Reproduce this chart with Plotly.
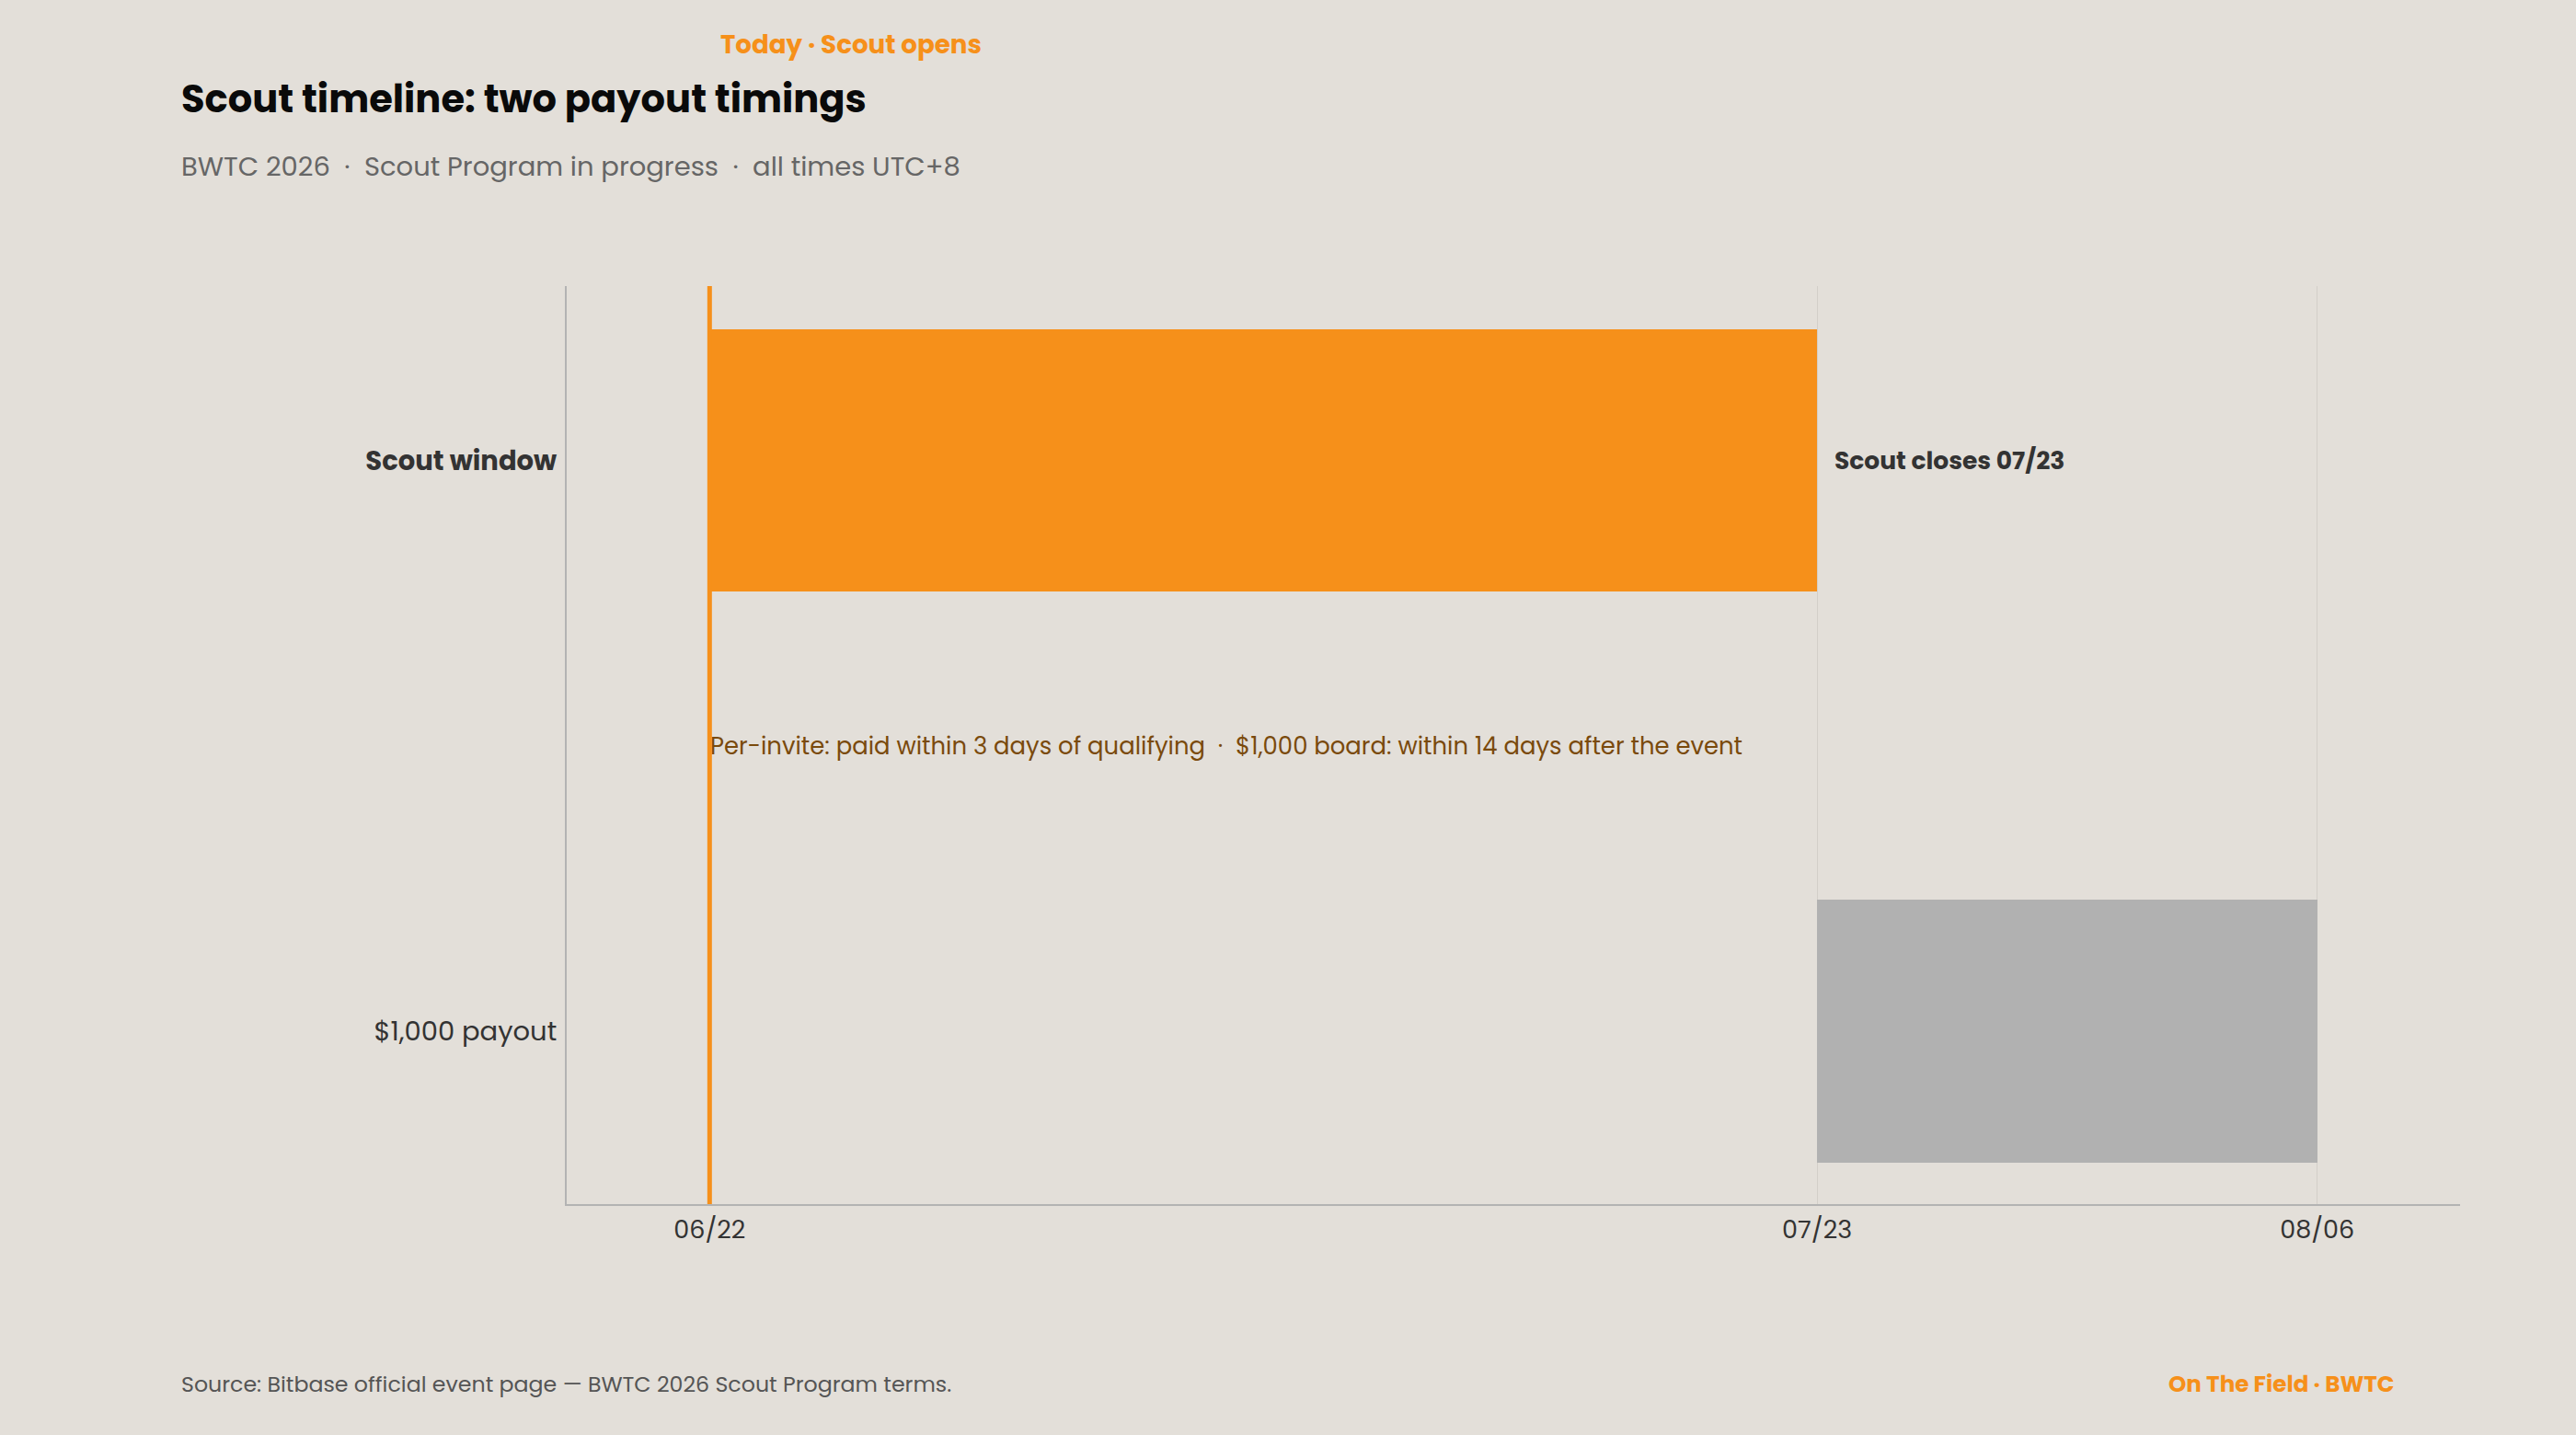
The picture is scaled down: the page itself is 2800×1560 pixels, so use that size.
import plotly.graph_objects as go
import pandas as pd

# ---- data ----
rows = ["Scout window", "Per-invite", "$1,000 payout"]
bar_names = ["Scout window", "$1,000 payout"]
bar_starts = ["2026-06-22", "2026-07-23"]
bar_ends = ["2026-07-23", "2026-08-06"]
bar_colors = ["#F6901A", "#B1B1B1"]
tick_dates = ["2026-06-22", "2026-07-23", "2026-08-06"]
tick_labels = ["06/22", "07/23", "08/06"]
x_range = ["2026-06-18", "2026-08-10"]
today = "2026-06-22"
close_date = "2026-07-23"

title = "Scout timeline: two payout timings"
subtitle = "BWTC 2026  ·  Scout Program in progress  ·  all times UTC+8"
today_label = "Today · Scout opens"
close_label = "Scout closes 07/23"
note_label = "Per-invite: paid within 3 days of qualifying  ·  $1,000 board: within 14 days after the event"
source = "Source: Bitbase official event page — BWTC 2026 Scout Program terms."
brand = "On The Field · BWTC"

FONT = "Poppins, Inter, Open Sans, sans-serif"
BG = "#E3DFD9"
ORANGE = "#F6901A"

starts = pd.to_datetime(bar_starts)
ends = pd.to_datetime(bar_ends)
durations = [(e - s).total_seconds() * 1000 for s, e in zip(starts, ends)]

fig = go.Figure()
fig.add_trace(go.Bar(
    y=bar_names,
    x=durations,
    base=bar_starts,
    orientation="h",
    marker=dict(color=bar_colors, line=dict(width=0)),
    width=0.92,
    hoverinfo="skip",
    showlegend=False,
))

# today line
fig.add_shape(type="line", x0=today, x1=today, y0=0, y1=1, xref="x", yref="paper",
              line=dict(color=ORANGE, width=5), layer="above")

fig.add_annotation(x=today, y=1.2635, xref="x", yref="paper", text="<b>" + today_label + "</b>",
                   showarrow=False, xanchor="left", yanchor="middle", xshift=10,
                   font=dict(family=FONT, size=27.7, color=ORANGE))
fig.add_annotation(x=close_date, y="Scout window", xref="x", yref="y", text="<b>" + close_label + "</b>",
                   showarrow=False, xanchor="left", yanchor="middle", xshift=17,
                   font=dict(family=FONT, size=26.5, color="#333333"))
fig.add_annotation(x=today, y="Per-invite", xref="x", yref="y", text=note_label,
                   showarrow=False, xanchor="left", yanchor="middle", xshift=-1,
                   font=dict(family=FONT, size=25.9, color="#7A4A0C"))

# title & subtitle (pixel positions, converted to paper below)
fig.add_annotation(x=195, y=1560 - 107, xref="paper", yref="paper", text="<b>" + title + "</b>",
                   showarrow=False, xanchor="left", yanchor="middle",
                   font=dict(family=FONT, size=41.6, color="#0A0A0A"))
fig.add_annotation(x=195, y=1560 - 181, xref="paper", yref="paper", text=subtitle,
                   showarrow=False, xanchor="left", yanchor="middle",
                   font=dict(family=FONT, size=29, color="#666666"))
fig.add_annotation(x=195, y=1560 - 1504, xref="paper", yref="paper", text=source,
                   showarrow=False, xanchor="left", yanchor="middle",
                   font=dict(family=FONT, size=23.7, color="#555555"))
fig.add_annotation(x=2605, y=1560 - 1504, xref="paper", yref="paper", text="<b>" + brand + "</b>",
                   showarrow=False, xanchor="right", yanchor="middle",
                   font=dict(family=FONT, size=24.6, color=ORANGE))

L, R, T, B = 616, 126, 311, 251
W, H = 2800, 1560
pw, ph = W - L - R, H - T - B
for a in fig.layout.annotations:
    if a.xref == "paper" and a.yref == "paper" and a.x > 2:
        a.x = (a.x - L) / pw
        a.y = (a.y - B) / ph

fig.update_layout(
    width=W, height=H,
    margin=dict(l=L, r=R, t=T, b=B, pad=0),
    paper_bgcolor=BG, plot_bgcolor=BG,
    font=dict(family=FONT, color="#333333"),
    bargap=0,
)
fig.update_xaxes(
    type="date", range=x_range,
    tickvals=tick_dates, ticktext=tick_labels,
    tickfont=dict(family=FONT, size=27, color="#333333"),
    showgrid=True, gridcolor="#D3CFC9", gridwidth=1,
    showline=True, linecolor="#B3B3B3", linewidth=2,
    ticks="", zeroline=False, ticklabelstandoff=3,
)
fig.update_yaxes(
    type="category", categoryorder="array", categoryarray=rows,
    range=[2.605, -0.61],
    tickvals=["Scout window", "$1,000 payout"],
    ticktext=["<b>Scout window</b>", "$1,000 payout"],
    tickfont=dict(family=FONT, size=29, color="#333333"),
    showgrid=False, showline=True, linecolor="#B3B3B3", linewidth=2,
    ticks="", zeroline=False, ticklabelstandoff=3,
)

fig.write_html("out.html")
